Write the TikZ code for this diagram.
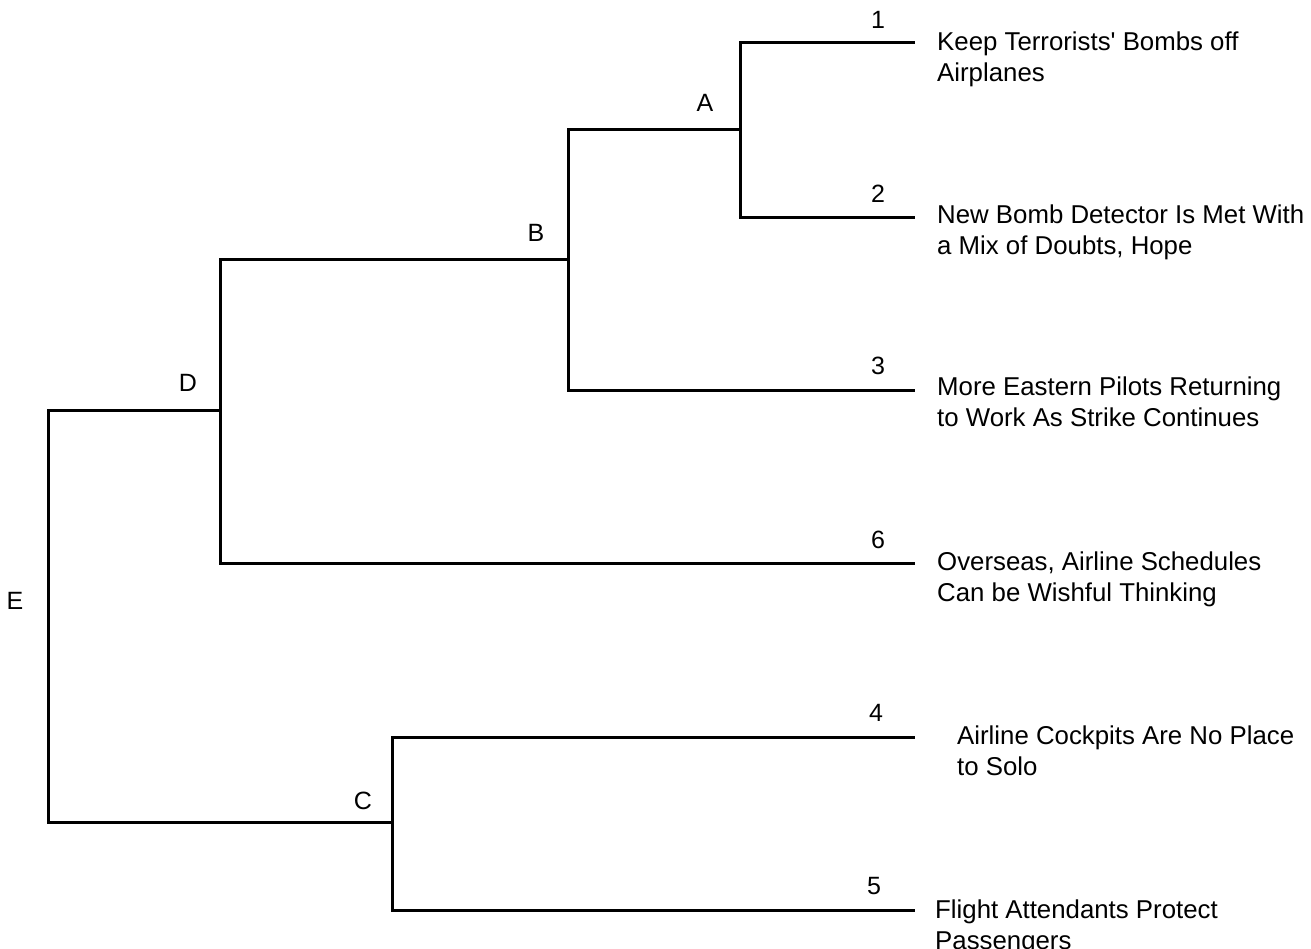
\documentclass[tikz,border=0pt]{standalone}
\usepackage{fontspec}
\setmainfont{Liberation Sans}
\begin{document}
\begin{tikzpicture}[x=1pt,y=-1pt,
  branch/.style={line width=3pt,line cap=rect,black},
  lbl/.style={font=\fontsize{25}{30}\selectfont,inner sep=0pt},
  title/.style={font=\fontsize{25.8}{30.5}\selectfont,inner sep=0pt,anchor=north west,align=left}]
\useasboundingbox (0,0) rectangle (1311,949);
% junction points
\coordinate (A) at (740,130);
\coordinate (B) at (568,260);
\coordinate (D) at (220,410);
\coordinate (C) at (392,822);
\coordinate (E) at (48,600);
% leaf ends
\coordinate (l1) at (913,43);
\coordinate (l2) at (913,218);
\coordinate (l3) at (913,390);
\coordinate (l6) at (913,563);
\coordinate (l4) at (913,737);
\coordinate (l5) at (913,910);
% tree
\draw[branch] (l1) -- (l1 -| A) -- (l2 -| A) -- (l2);
\draw[branch] (A) -- (A -| B);
\draw[branch] (A -| B) -- (l3 -| B) -- (l3);
\draw[branch] (B) -- (B -| D);
\draw[branch] (B -| D) -- (l6 -| D) -- (l6);
\draw[branch] (D) -- (D -| E);
\draw[branch] (D -| E) -- (C -| E) -- (C);
\draw[branch] (l4) -- (l4 -| C) -- (l5 -| C) -- (l5);
% labels
\node[lbl] (nA) at (705,103) {A};
\node[lbl] (nB) at (536,233) {B};
\node[lbl] (nD) at (188,383) {D};
\node[lbl] (nC) at (363,801) {C};
\node[lbl] (nE) at (15,601) {E};
\node[lbl] (n1) at (878,20) {1};
\node[lbl] (n2) at (878,194) {2};
\node[lbl] (n3) at (878,366) {3};
\node[lbl] (n6) at (878,540) {6};
\node[lbl] (n4) at (876,713) {4};
\node[lbl] (n5) at (874,886) {5};
% titles
\node[title] (t1) at (937,32) {Keep Terrorists\textquotesingle{} Bombs off\\Airplanes};
\node[title] (t2) at (937,205) {New Bomb Detector Is Met With\\a Mix of Doubts, Hope};
\node[title] (t3) at (937,377) {More Eastern Pilots Returning\\to Work As Strike Continues};
\node[title] (t6) at (937,552) {Overseas, Airline Schedules\\Can be Wishful Thinking};
\node[title] (t4) at (957,726) {Airline Cockpits Are No Place\\to Solo};
\node[title] (t5) at (935,900) {Flight Attendants Protect\\Passengers};
\end{tikzpicture}
\end{document}
